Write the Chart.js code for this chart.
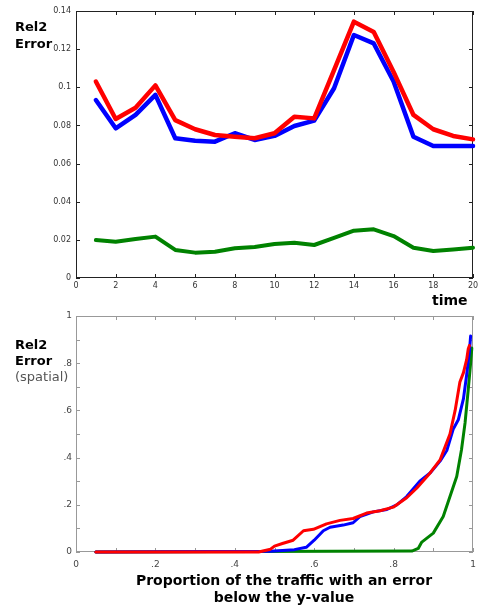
<!DOCTYPE html>
<html lang="en">
<head>
  <meta charset="UTF-8">
  <title>Rel2 Error</title>
  <script src="https://cdn.jsdelivr.net/npm/chart.js"></script>
  <style>
    body {
      margin: 0;
      background: #fff;
      font-family: "DejaVu Sans", sans-serif;
    }

    #wrap {
      position: relative;
      width: 483px;
      height: 607px;
      overflow: hidden;
    }

    canvas {
      position: absolute;
      left: 0;
    }

    #top-chart { top: 0; }
    #bottom-chart { top: 300px; }

    .lbl {
      position: absolute;
      white-space: nowrap;
      color: #000;
      line-height: 17px;
    }

    #top-ylabel { left: 15px; top: 18px; font-size: 13px; font-weight: bold; }
    #time-label { left: 432px; top: 292px; font-size: 14px; font-weight: bold; }
    #bottom-ylabel { left: 15px; top: 337px; font-size: 13px; font-weight: bold; line-height: 16px; }
    #bottom-ylabel span { font-weight: normal; color: #555; font-size: 13px; }
    #bottom-xlabel { left: 84px; width: 400px; top: 572px; font-size: 14px; font-weight: bold; text-align: center; }
  </style>
</head>
<body>

<div id="wrap">
  <canvas id="top-chart" width="483" height="300"></canvas>
  <canvas id="bottom-chart" width="483" height="307"></canvas>
  <div class="lbl" id="top-ylabel">Rel2<br>Error</div>
  <div class="lbl" id="time-label">time</div>
  <div class="lbl" id="bottom-ylabel">Rel2<br>Error<br><span>(spatial)</span></div>
  <div class="lbl" id="bottom-xlabel">Proportion of the traffic with an error<br>below the y-value</div>
</div>

<script>
  // top panel: error per time step
  const timeSteps = [1, 2, 3, 4, 5, 6, 7, 8, 9, 10, 11, 12, 13, 14, 15, 16, 17, 18, 19, 20];
  const topRed = [0.103, 0.0834, 0.0893, 0.101, 0.0828, 0.078, 0.075, 0.0741, 0.0733, 0.0759,
                  0.0846, 0.0837, 0.109, 0.1344, 0.129, 0.108, 0.0855, 0.078, 0.0745, 0.0727];
  const topBlue = [0.0933, 0.0785, 0.0855, 0.096, 0.0733, 0.072, 0.0715, 0.0759, 0.0724, 0.0745,
                   0.0797, 0.0825, 0.0995, 0.1274, 0.123, 0.103, 0.0741, 0.0692, 0.0692, 0.0692];
  const topGreen = [0.0199, 0.019, 0.0205, 0.0217, 0.0147, 0.0133, 0.0138, 0.0156, 0.0163, 0.0178,
                    0.0185, 0.0173, 0.021, 0.0248, 0.0255, 0.022, 0.0159, 0.0142, 0.015, 0.0159];

  // bottom panel: proportion of traffic (x) vs spatial error (y)
  const redX = [0.05, 0.46, 0.49, 0.50, 0.52, 0.547, 0.573, 0.598, 0.631, 0.665, 0.698, 0.732, 0.766,
                0.799, 0.833, 0.858, 0.892, 0.917, 0.942, 0.955, 0.967, 0.976, 0.984, 0.988, 0.991];
  const redY = [0, 0, 0.012, 0.025, 0.036, 0.05, 0.09, 0.096, 0.119, 0.134, 0.142, 0.165, 0.175,
                0.19, 0.23, 0.27, 0.335, 0.39, 0.50, 0.60, 0.72, 0.76, 0.815, 0.86, 0.875];
  const blueX = [0.05, 0.49, 0.55, 0.58, 0.60, 0.623, 0.64, 0.673, 0.698, 0.715, 0.749, 0.783,
                 0.808, 0.833, 0.866, 0.892, 0.917, 0.934, 0.950, 0.963, 0.976, 0.984, 0.991, 0.994];
  const blueY = [0, 0.003, 0.01, 0.02, 0.05, 0.09, 0.105, 0.114, 0.124, 0.15, 0.17, 0.18,
                 0.2, 0.235, 0.3, 0.335, 0.385, 0.43, 0.52, 0.56, 0.65, 0.75, 0.85, 0.915];
  const greenX = [0.05, 0.846, 0.862, 0.871, 0.9, 0.925, 0.942, 0.959, 0.971, 0.98, 0.988, 0.994, 0.997];
  const greenY = [0, 0.004, 0.015, 0.042, 0.08, 0.15, 0.235, 0.32, 0.433, 0.547, 0.688, 0.8, 0.864];

  const RED = '#ff0000';
  const BLUE = '#0000ff';
  const GREEN = 'rgb(0,130,0)';

  const pairs = (xs, ys) => xs.map((x, i) => ({ x: x, y: ys[i] }));

  // box around the plot area with small inward tick marks on all four sides
  const framePlugin = {
    id: 'frame',
    beforeDatasetsDraw(chart, args, opts) {
      const { ctx, chartArea: a, scales } = chart;
      const len = opts.tick;
      ctx.save();
      ctx.strokeStyle = opts.color;
      ctx.lineWidth = 1;
      ctx.strokeRect(a.left + 0.5, a.top + 0.5, a.right - a.left - 1, a.bottom - a.top - 1);
      ctx.beginPath();
      scales.x.ticks.forEach(t => {
        const px = Math.round(scales.x.getPixelForValue(t.value)) + 0.5;
        ctx.moveTo(px, a.bottom); ctx.lineTo(px, a.bottom - len);
        ctx.moveTo(px, a.top); ctx.lineTo(px, a.top + len);
      });
      scales.y.ticks.forEach(t => {
        const py = Math.round(scales.y.getPixelForValue(t.value)) + 0.5;
        ctx.moveTo(a.left, py); ctx.lineTo(a.left + len, py);
        ctx.moveTo(a.right, py); ctx.lineTo(a.right - len, py);
      });
      ctx.stroke();
      ctx.restore();
    }
  };

  const line = (label, data, color, width) => ({
    label: label,
    data: data,
    borderColor: color,
    borderWidth: width,
    pointRadius: 0,
    fill: false,
    tension: 0,
    clip: false,
    borderJoinStyle: 'round',
    borderCapStyle: 'round'
  });

  new Chart(document.getElementById('top-chart'), {
    type: 'line',
    data: {
      datasets: [
        line('red', pairs(timeSteps, topRed), RED, 4.5),
        line('blue', pairs(timeSteps, topBlue), BLUE, 4.5),
        line('green', pairs(timeSteps, topGreen), GREEN, 4)
      ]
    },
    options: {
      responsive: false,
      animation: false,
      devicePixelRatio: 1,
      layout: { padding: { top: 11, right: 10, left: 0, bottom: 0 } },
      plugins: {
        legend: { display: false },
        tooltip: { enabled: false },
        frame: { color: '#222', tick: 4 }
      },
      scales: {
        x: {
          type: 'linear',
          min: 0,
          max: 20,
          grid: { display: false, drawTicks: false },
          border: { display: false },
          ticks: { stepSize: 2, autoSkip: false, maxRotation: 0, padding: 3,
                   color: '#333', font: { family: 'DejaVu Sans', size: 8 } },
          afterFit: s => { s.height = 22; }
        },
        y: {
          min: 0,
          max: 0.14,
          grid: { display: false, drawTicks: false },
          border: { display: false },
          ticks: { stepSize: 0.02, autoSkip: false, padding: 5, color: '#333',
                   font: { family: 'DejaVu Sans', size: 8 },
                   callback: v => String(Math.round(v * 100) / 100) },
          afterFit: s => { s.width = 76; }
        }
      }
    },
    plugins: [framePlugin]
  });

  const fracLabel = v => {
    const r = Math.round(v * 10);
    if (r % 2) return '';
    if (r === 0) return '0';
    if (r === 10) return '1';
    return '.' + r;
  };

  new Chart(document.getElementById('bottom-chart'), {
    type: 'line',
    data: {
      datasets: [
        line('red', pairs(redX, redY), RED, 3),
        line('blue', pairs(blueX, blueY), BLUE, 3),
        line('green', pairs(greenX, greenY), GREEN, 3)
      ]
    },
    options: {
      responsive: false,
      animation: false,
      devicePixelRatio: 1,
      layout: { padding: { top: 16, right: 10, left: 0, bottom: 0 } },
      plugins: {
        legend: { display: false },
        tooltip: { enabled: false },
        frame: { color: '#999', tick: 4 }
      },
      scales: {
        x: {
          type: 'linear',
          min: 0,
          max: 1,
          grid: { display: false, drawTicks: false },
          border: { display: false },
          ticks: { stepSize: 0.1, autoSkip: false, maxRotation: 0, padding: 7,
                   color: '#444', font: { family: 'DejaVu Sans', size: 9 }, callback: fracLabel },
          afterFit: s => { s.height = 55; }
        },
        y: {
          min: 0,
          max: 1,
          grid: { display: false, drawTicks: false },
          border: { display: false },
          ticks: { stepSize: 0.1, autoSkip: false, padding: 4, color: '#444',
                   font: { family: 'DejaVu Sans', size: 9 }, callback: fracLabel },
          afterFit: s => { s.width = 76; }
        }
      }
    },
    plugins: [framePlugin]
  });
</script>

</body>
</html>
